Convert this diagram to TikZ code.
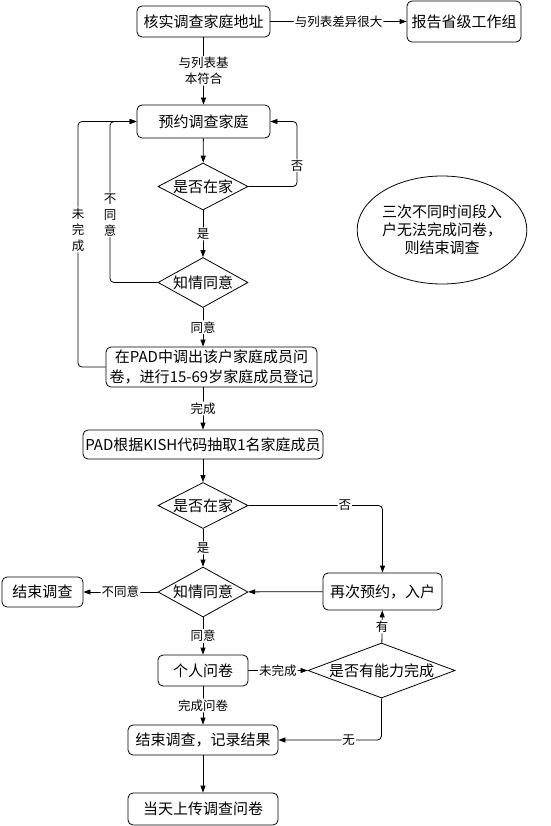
\documentclass[tikz,border=0pt]{standalone}
\usepackage{fontspec}
\setmainfont{Noto Sans CJK SC}
\usetikzlibrary{arrows.meta, shapes.geometric}
\tikzset{
    task/.style = {
      draw,
      rounded corners=5pt,
      line width=0.8pt,
      inner sep=1pt,
      align=center,
      font=\fontsize{15}{20}\selectfont
    },
    choice/.style = {
      draw,
      diamond,
      line width=0.8pt,
      inner sep=0pt,
      aspect=2,
      font=\fontsize{15}{18}\selectfont
    },
    note/.style = {
      draw,
      ellipse,
      line width=0.8pt,
      inner sep=0pt,
      align=center,
      font=\fontsize{15}{18}\selectfont
    },
    tag/.style = {
      fill=white,
      inner sep=1pt,
      align=center,
      font=\fontsize{12.5}{16}\selectfont
    },
    flow/.style = {
      line width=0.8pt,
      rounded corners=4pt,
      -{Triangle[length=7pt,width=5pt]}
    },
}

\begin{document}
\begin{tikzpicture}[x=1pt, y=-1pt]
    \useasboundingbox (0,0) rectangle (550,826);

    % first visit
    \node[task, minimum width=133, minimum height=31] (CHECK) at (203.5, 21.5) {核实调查家庭地址};
    \node[task, minimum width=114, minimum height=41] (REPORT) at (464, 21.5) {报告省级工作组};
    \node[task, minimum width=133, minimum height=33] (BOOK) at (203.5, 121.5) {预约调查家庭};
    \node[choice, minimum width=90, minimum height=47] (HOME1) at (203, 186.5) {是否在家};
    \node[choice, minimum width=90, minimum height=50] (AGREE1) at (203, 282.5) {知情同意};
    \node[task, minimum width=211, minimum height=40] (REGISTER) at (211.5, 367)
        {在PAD中调出该户家庭成员问\\卷，进行15-69岁家庭成员登记};
    \node[task, minimum width=240, minimum height=29] (KISH) at (203, 444.5) {PAD根据KISH代码抽取1名家庭成员};
    \node[note, minimum width=142, minimum height=108] (RULE) at (442, 230)
        {三次不同时间段入\\户无法完成问卷，\\则结束调查};

    % chosen member
    \node[choice, minimum width=90, minimum height=46] (HOME2) at (203, 505.5) {是否在家};
    \node[choice, minimum width=90, minimum height=50] (AGREE2) at (203, 592) {知情同意};
    \node[task, minimum width=81, minimum height=30] (ENDA) at (42.5, 592) {结束调查};
    \node[task, minimum width=119, minimum height=37] (AGAIN) at (382.5, 591.5) {再次预约，入户};
    \node[task, minimum width=90, minimum height=31] (PERSONAL) at (203, 670.5) {个人问卷};
    \node[choice, aspect=3, minimum width=147, minimum height=55] (ABLE) at (381.5, 670.5) {是否有能力完成};
    \node[task, minimum width=150, minimum height=30] (RESULT) at (203, 740) {结束调查，记录结果};
    \node[task, minimum width=150, minimum height=32] (UPLOAD) at (203, 809) {当天上传调查问卷};

    \coordinate (NOBACK) at (297, 121.5);
    \coordinate (NOAGREE) at (110, 121.5);
    \coordinate (UNDONE) at (78, 121.5);

    \draw[flow] (CHECK) -- node[tag] {与列表差异很大} (REPORT);
    \draw[flow] (CHECK) -- node[tag] {与列表基\\本符合} (BOOK);
    \draw[flow] (BOOK) -- (HOME1);
    \draw[flow] (HOME1.east) -| node[tag, pos=0.66] {否} (NOBACK) -- (BOOK.east);
    \draw[flow] (HOME1) -- node[tag] {是} (AGREE1);
    \draw[flow] (AGREE1.west) -| node[tag, pos=0.71, font=\fontsize{12.5}{16}\selectfont] {不\\同\\意} (NOAGREE) -- (BOOK.west);
    \draw[flow] (REGISTER.west) -| node[tag, pos=0.78] {未\\完\\成} (UNDONE) -- (BOOK.west);
    \draw[flow] (AGREE1) -- node[tag] {同意} (AGREE1 |- REGISTER.north);
    \draw[flow] (AGREE1 |- REGISTER.south) -- node[tag] {完成} (KISH);

    \draw[flow] (KISH) -- (HOME2);
    \draw[flow] (HOME2.east) -| node[tag, pos=0.36] {否} (AGAIN.north);
    \draw[flow] (HOME2) -- node[tag] {是} (AGREE2);
    \draw[flow] (AGREE2) -- node[tag] {不同意} (ENDA);
    \draw[flow] (AGAIN) -- (AGREE2);
    \draw[flow] (AGREE2) -- node[tag] {同意} (PERSONAL);
    \draw[flow] (PERSONAL) -- node[tag] {未完成} (ABLE);
    \draw[flow] (ABLE) -- node[tag] {有} (AGAIN);
    \draw[flow] (ABLE.south) |- node[tag, pos=0.66] {无} (RESULT.east);
    \draw[flow] (PERSONAL) -- node[tag] {完成问卷} (RESULT);
    \draw[flow] (RESULT) -- (UPLOAD);
\end{tikzpicture}
\end{document}
